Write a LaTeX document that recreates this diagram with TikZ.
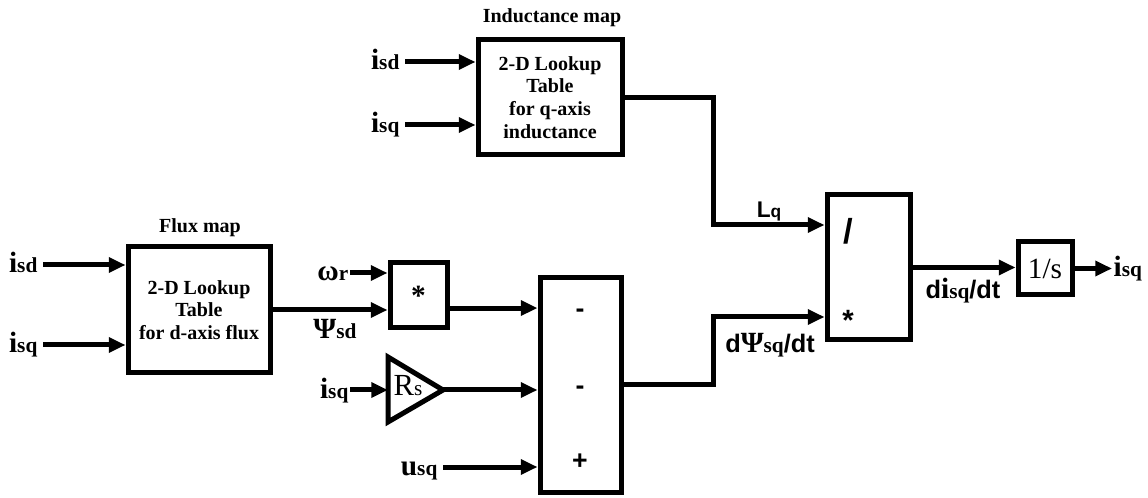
\documentclass[tikz,border=0pt]{standalone}
\usepackage{fontspec}
\setmainfont{Liberation Serif}
\newfontfamily\arialfont{Liberation Sans}
\usetikzlibrary{arrows.meta}
\newcommand{\sig}[2]{{\fontsize{22}{22}\selectfont #1}{\fontsize{16}{16}\selectfont #2}}
\newcommand{\sfb}[1]{{\arialfont\bfseries\fontsize{19}{19}\selectfont #1}}

\begin{document}
\begin{tikzpicture}[x=0.75pt, y=-0.75pt,
  block/.style={draw, rectangle, line width=3.75pt, inner sep=0pt, font=\bfseries\fontsize{15}{17}\selectfont, align=center},
  conn/.style={line width=3.75pt, -{Triangle[length=12.5pt,width=11pt]}},
  wire/.style={line width=3.75pt, line join=miter},
  lbl/.style={anchor=east, inner xsep=4pt, inner ysep=0pt, text height=15pt, text depth=3pt, font=\bfseries},
  tag/.style={inner sep=0pt, font=\bfseries},
  sign/.style={inner sep=0pt, font=\arialfont\bfseries\fontsize{20}{20}\selectfont},
]
  \useasboundingbox (0,0) rectangle (1148,498);

  % Blocks
  \node[block, minimum width=106.5pt, minimum height=94.5pt] (flux) at (199,310) {2-D Lookup\\Table\\for d-axis flux};
  \node[block, minimum width=108pt, minimum height=86.25pt] (ind) at (550,97.5) {2-D Lookup\\Table\\for q-axis\\inductance};
  \node[block, minimum width=42.75pt, minimum height=48.75pt, font=\bfseries\fontsize{22}{22}\selectfont] (prod) at (418.5,295.5) {*};
  \node[block, minimum width=60.75pt, minimum height=160.5pt] (sum) at (580.5,385) {};
  \node[block, minimum width=62.25pt, minimum height=108.75pt] (div) at (868.5,267.5) {};
  \node[block, minimum width=40.5pt, minimum height=39.75pt, font=\fontsize{22}{22}\selectfont] (integ) at (1045,268.5) {1/s};

  \node[tag, font=\bfseries\fontsize{15}{15}\selectfont] (fluxttl) at (200,228) {Flux map};
  \node[tag, font=\bfseries\fontsize{15}{15}\selectfont] (indttl) at (552,18) {Inductance map};

  % Gain
  \coordinate (gin) at (388,390);
  \coordinate (gout) at (443,390);
  \draw[wire] (388,357) -- (gout) -- (388,422) -- cycle;
  \node[tag, font=\mdseries] (rs) at (408,386) {{\fontsize{23}{23}\selectfont R}{\fontsize{16}{16}\selectfont s}};

  % Signs
  \node[sign] (sgA) at (580,313) {-};
  \node[sign] (sgB) at (580,390) {-};
  \node[sign] (sgC) at (580,462) {+};
  \node[sign, font=\arialfont\bfseries\fontsize{26}{26}\selectfont] (slash) at (848,231) {/};
  \node[sign, font=\arialfont\bfseries\fontsize{22}{22}\selectfont] (star) at (848,320) {*};

  % Inputs
  \node[lbl] (isdF) at (43,265) {\sig{i}{sd}};
  \node[lbl] (isqF) at (43,345) {\sig{i}{sq}};
  \node[lbl] (isdL) at (405,62) {\sig{i}{sd}};
  \node[lbl] (isqL) at (405,125) {\sig{i}{sq}};
  \node[lbl, inner xsep=1pt] (wr) at (350,273) {\sig{ω}{r}};
  \node[lbl, inner xsep=1pt] (isqG) at (350,390) {\sig{i}{sq}};
  \node[lbl] (usq) at (443,467) {\sig{u}{sq}};
  \node[lbl, anchor=west, inner xsep=1pt] (isqO) at (1112,268.5) {\sig{i}{sq}};

  % Signal names
  \node[tag] (psisd) at (335,329) {\sig{Ψ}{sd}};
  \node[tag] (lq) at (769,212) {{\arialfont\bfseries\fontsize{17}{17}\selectfont L}{\arialfont\bfseries\fontsize{13}{13}\selectfont q}};
  \node[tag] (dpsi) at (770,345) {\sfb{d}\sig{Ψ}{sq}\sfb{/dt}};
  \node[tag] (disq) at (963,291) {\sfb{d}\sig{i}{sq}\sfb{/dt}};

  % Connections
  \draw[conn] (isdF) -- (flux.west |- isdF);
  \draw[conn] (isqF) -- (flux.west |- isqF);
  \draw[conn] (isdL) -- (ind.west |- isdL);
  \draw[conn] (isqL) -- (ind.west |- isqL);
  \draw[conn] (flux.east) -- (prod.west |- flux.east);
  \draw[conn] (wr) -- (prod.west |- wr);
  \coordinate (pout) at ([yshift=-9.4pt]prod.east);
  \draw[conn] (pout) -- (pout -| sum.west);
  \draw[conn] (isqG) -- (gin);
  \draw[conn] (gout) -- (gout -| sum.west);
  \draw[conn] (usq) -- (usq -| sum.west);
  \coordinate (jL) at (713,225);
  \coordinate (jP) at (713,317);
  \draw[conn] (ind.east) -| (jL) -- (div.west |- jL);
  \draw[conn] (sum.east) -| (jP) -- (div.west |- jP);
  \draw[conn] (div.east) -- (integ.west |- div.east);
  \draw[conn] (integ) -- (isqO);

\end{tikzpicture}
\end{document}
